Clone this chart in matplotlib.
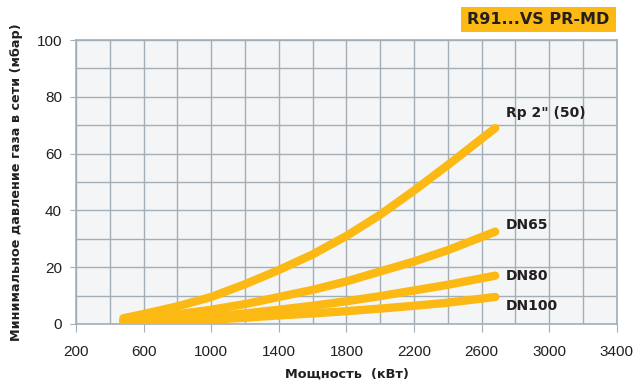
import numpy as np
import matplotlib.pyplot as plt
from matplotlib.patches import Rectangle

plt.rcParams['font.family'] = ['Liberation Sans', 'DejaVu Sans']

# power (kW) and minimum gas pressure (mbar) for each connection
power = [480, 600, 800, 1000, 1200, 1400, 1600, 1800, 2000, 2200, 2400, 2680]
rp2 = [2.0, 3.5, 6.2, 9.5, 14.0, 19.0, 24.5, 31.0, 38.5, 47.0, 56.0, 69.0]
dn65 = [1.2, 2.0, 3.4, 5.0, 7.0, 9.5, 12.0, 15.0, 18.5, 22.0, 26.0, 32.5]
dn80 = [0.6, 1.0, 1.7, 2.6, 3.7, 5.0, 6.4, 8.0, 9.8, 11.8, 13.8, 17.0]
dn100 = [0.3, 0.6, 1.0, 1.5, 2.2, 3.0, 3.7, 4.5, 5.4, 6.4, 7.5, 9.5]

labels = ['Rp 2" (50)', 'DN65', 'DN80', 'DN100']
label_y = [74.3, 34.9, 16.9, 6.3]

orange = '#fdb913'
grid_c = '#a3aeb6'
ink = '#231f20'
bold_font = 'DejaVu Sans'

fig = plt.figure(figsize=(6.36, 3.82), dpi=100)
ax = fig.add_axes([0.1195, 0.152, 0.8505, 0.743])
ax.set_facecolor('#f3f5f7')

for series in [rp2, dn65, dn80, dn100]:
    ax.plot(power, series, color=orange, lw=6, solid_capstyle='round', zorder=3)

for lab, ly in zip(labels, label_y):
    ax.text(2743, ly, lab, fontsize=10, fontweight='bold', family=bold_font,
            color=ink, ha='left', va='center')

ax.set_xlim(200, 3400)
ax.set_ylim(0, 100)
ax.set_xticks(np.arange(200, 3401, 400))
ax.set_xticks(np.arange(200, 3401, 200), minor=True)
ax.set_yticks(np.arange(0, 101, 20))
ax.set_yticks(np.arange(0, 101, 10), minor=True)
ax.grid(which='both', color=grid_c, lw=1.0)
ax.set_axisbelow(True)
for s in ax.spines.values():
    s.set_color(grid_c)
    s.set_linewidth(1.2)
ax.tick_params(axis='x', which='major', length=6, color=grid_c, labelsize=11,
               labelcolor=ink, pad=9)
ax.tick_params(axis='x', which='minor', length=0)
ax.tick_params(axis='y', which='major', length=4, color=grid_c, labelsize=11,
               labelcolor=ink, pad=6)
ax.tick_params(axis='y', which='minor', length=0)

ax.set_xlabel('Мощность  (кВт)', fontsize=9.3, fontweight='bold', family=bold_font,
              color=ink, labelpad=6)
ax.set_ylabel('Минимальное давление газа в сети (мбар)', fontsize=9.2, fontweight='bold',
              family=bold_font, color=ink, labelpad=10)

# title badge in the top right corner
fig.add_artist(Rectangle((0.7248, 0.9162), 0.2437, 0.0654, transform=fig.transFigure,
                         fc=orange, ec='none'))
fig.text(0.7248 + 0.2437 / 2, 0.9162 + 0.0654 / 2, 'R91...VS PR-MD', fontsize=11.5,
         fontweight='bold', family=bold_font, color=ink, ha='center', va='center')

fig.savefig('out.png', dpi=100)
